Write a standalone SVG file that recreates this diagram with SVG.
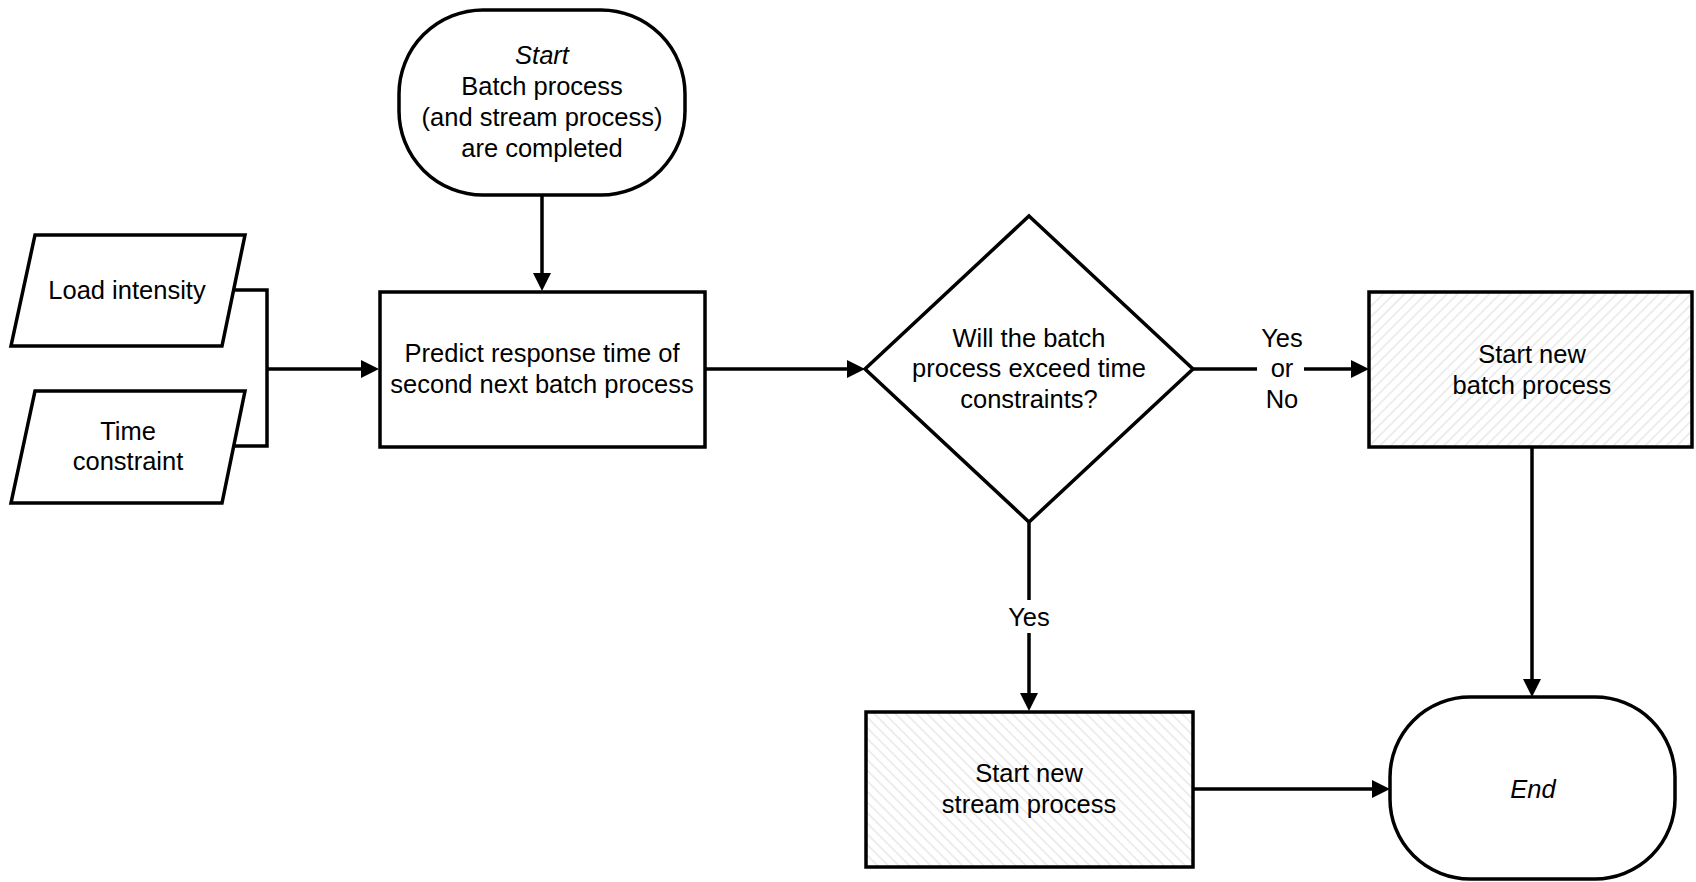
<svg xmlns="http://www.w3.org/2000/svg" width="1696" height="882" viewBox="0 0 1696 882">
<style>
.shape{fill:#fff;stroke:#000;stroke-width:3.5}
.hatchA{fill:url(#hatchUp);stroke:#000;stroke-width:3.5}
.hatchB{fill:url(#hatchDown);stroke:#000;stroke-width:3.5}
.t{font-family:"Liberation Sans",Arial,sans-serif;font-size:25.5px;fill:#000;text-anchor:middle}
.it{font-style:italic}
.c{fill:none;stroke:#000;stroke-width:3.5}
.ca{fill:none;stroke:#000;stroke-width:3.5;marker-end:url(#arrow)}
</style>
<defs>
<marker id="arrow" markerUnits="userSpaceOnUse" markerWidth="19" markerHeight="19" refX="8" refY="9" orient="auto">
<path d="M0,0 L18,9 L0,18 z" fill="#000"/>
</marker>
<pattern id="hatchUp" patternUnits="userSpaceOnUse" width="7.5" height="7.5" patternTransform="rotate(45)">
<rect width="7.5" height="7.5" fill="#fff"/>
<line x1="1" y1="0" x2="1" y2="7.5" stroke="#e6e6e6" stroke-width="1.4"/>
</pattern>
<pattern id="hatchDown" patternUnits="userSpaceOnUse" width="7.5" height="7.5" patternTransform="rotate(-45)">
<rect width="7.5" height="7.5" fill="#fff"/>
<line x1="1" y1="0" x2="1" y2="7.5" stroke="#e6e6e6" stroke-width="1.4"/>
</pattern>
</defs>
<rect width="1696" height="882" fill="#fff"/>

<g id="connectors">
<polyline class="c" points="234,290 267,290 267,446 234,446"/>
<line class="ca" x1="267" y1="369" x2="369" y2="369"/>
<line class="ca" x1="542" y1="195" x2="542" y2="281"/>
<line class="ca" x1="705" y1="369" x2="855" y2="369"/>
<line class="c" x1="1193" y1="369" x2="1257" y2="369"/>
<line class="ca" x1="1304" y1="369" x2="1359" y2="369"/>
<line class="c" x1="1029" y1="522" x2="1029" y2="600"/>
<line class="ca" x1="1029" y1="633" x2="1029" y2="701"/>
<line class="ca" x1="1532" y1="447" x2="1532" y2="687"/>
<line class="ca" x1="1193" y1="789" x2="1380" y2="789"/>
<text class="t" x="1282" y="347">Yes</text>
<text class="t" x="1282" y="377">or</text>
<text class="t" x="1282" y="408">No</text>
<text class="t" x="1029" y="626">Yes</text>
</g>

<g id="start">
<rect class="shape" x="399" y="10" width="286" height="185" rx="84" ry="84"/>
<text class="t it" x="542" y="64">Start</text>
<text class="t" x="542" y="95">Batch process</text>
<text class="t" x="542" y="126">(and stream process)</text>
<text class="t" x="542" y="157">are completed</text>
</g>

<g id="load-intensity">
<polygon class="shape" points="35,235 245,235 222,346 11,346"/>
<text class="t" x="127" y="299">Load intensity</text>
</g>

<g id="time-constraint">
<polygon class="shape" points="35,391 245,391 222,503 11,503"/>
<text class="t" x="128" y="440">Time</text>
<text class="t" x="128" y="470">constraint</text>
</g>

<g id="predict">
<rect class="shape" x="380" y="292" width="325" height="155"/>
<text class="t" x="542" y="362">Predict response time of</text>
<text class="t" x="542" y="393">second next batch process</text>
</g>

<g id="decision">
<polygon class="shape" points="1029,216 1193,369 1029,522 865,369"/>
<text class="t" x="1029" y="347">Will the batch</text>
<text class="t" x="1029" y="377">process exceed time</text>
<text class="t" x="1029" y="408">constraints?</text>
</g>

<g id="batch">
<rect class="hatchA" x="1369" y="292" width="323" height="155"/>
<text class="t" x="1532" y="363">Start new</text>
<text class="t" x="1532" y="394">batch process</text>
</g>

<g id="stream">
<rect class="hatchB" x="866" y="712" width="327" height="155"/>
<text class="t" x="1029" y="782">Start new</text>
<text class="t" x="1029" y="813">stream process</text>
</g>

<g id="end">
<rect class="shape" x="1390" y="697" width="285" height="182" rx="80" ry="80"/>
<text class="t it" x="1533" y="798">End</text>
</g>
</svg>
